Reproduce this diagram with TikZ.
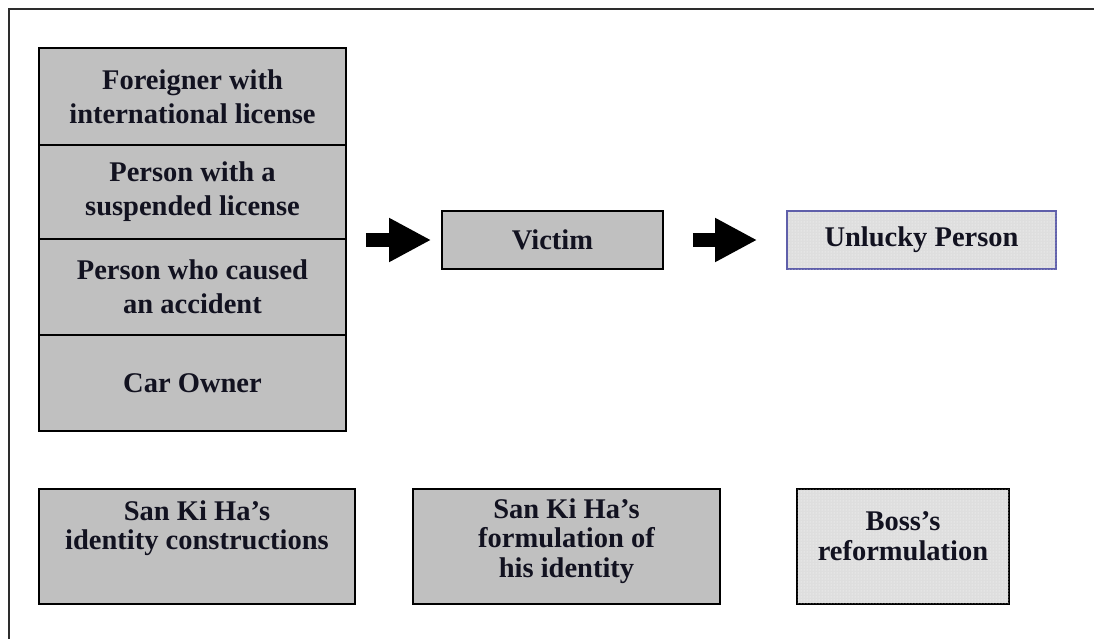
\documentclass[tikz,border=0pt]{standalone}
\usepackage{fontspec}
\setmainfont{Liberation Serif}
\usetikzlibrary{arrows.meta,patterns}
\definecolor{boxgray}{RGB}{192,192,192}
\definecolor{lightdot}{RGB}{222,222,222}
\definecolor{txt}{RGB}{18,18,32}
\definecolor{framegray}{RGB}{45,45,45}
\definecolor{bluebord}{RGB}{95,95,170}
\begin{document}
\begin{tikzpicture}[x=1pt,y=-1pt,
  every node/.style={font=\fontsize{28.5}{34}\selectfont\bfseries, text=txt, align=center, inner sep=0pt},
  graybox/.style={draw=black, line width=1.6pt, fill=boxgray, rectangle},
  dotbox/.style={line width=1.6pt, fill=lightdot, rectangle, postaction={pattern=dots, pattern color=white}},
  cell/.style={graybox, minimum width=307pt},
  lowtext/.style={font=\fontsize{28.5}{29.5}\selectfont\bfseries},
  blockarr/.style={line width=14pt, -{Triangle[length=42pt,width=41pt]}, black}
]
\useasboundingbox (0,0) rectangle (1094,639);
\clip (0,0) rectangle (1094,639);
\draw[framegray, line width=2pt] (1100,9) -- (9,9) -- (9,650);

% left stack
\node[cell, minimum height=97pt] (s1) at (192.5,96.5) {Foreigner with\\international license};
\node[cell, minimum height=94pt] (s2) at (192.5,192) {Person with a\\suspended license};
\node[cell, minimum height=96pt] (s3) at (192.5,287) {Person who caused\\an accident};
\node[cell, minimum height=96pt] (s4) at (192.5,383) {Car Owner};

% top row
\node[graybox, minimum width=221pt, minimum height=58pt] (victim) at (552.5,240) {Victim};
\node[dotbox, draw=bluebord, minimum width=269pt, minimum height=58pt] (unlucky) at (921.5,240) {};
\node (unluckyt) at (921.5,240) {Unlucky Person};

\draw[blockarr] ([xshift=19pt]s2.south east |- victim.west) -- ([xshift=-10pt]victim.west);
\draw[blockarr] ([xshift=29pt]victim.east) -- ([xshift=-29pt]unlucky.west);

% bottom row
\node[graybox, minimum width=316pt, minimum height=115pt] (b1) at (197,546.5) {};
\node[lowtext] (b1t) at (197,528) {San Ki Ha’s\\identity constructions};
\node[graybox, minimum width=307pt, minimum height=115pt] (b2) at (566.5,546.5) {};
\node[lowtext] (b2t) at (566.5,541) {San Ki Ha’s\\formulation of\\his identity};
\node[dotbox, draw=black, minimum width=212pt, minimum height=115pt] (b3) at (903,546.5) {};
\node[lowtext] (b3t) at (903,536) {Boss’s\\reformulation};
\end{tikzpicture}
\end{document}
